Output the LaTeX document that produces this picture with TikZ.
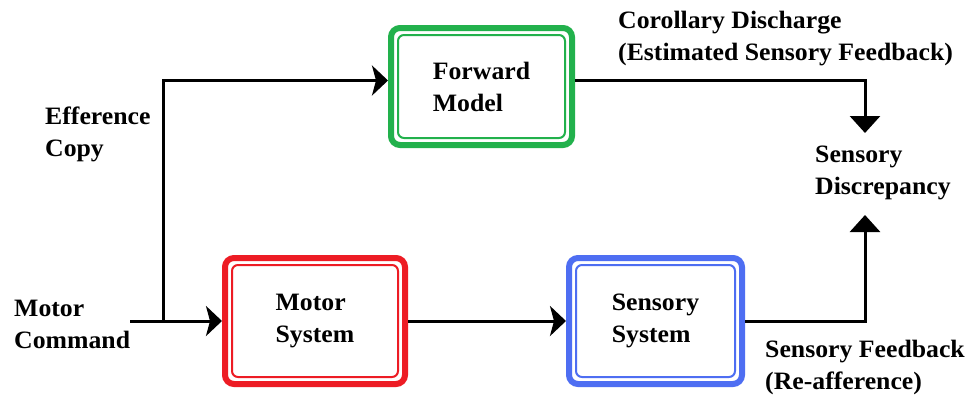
\documentclass[tikz,border=0pt]{standalone}
\usepackage{fontspec}
\setmainfont[FakeStretch=1.03]{Liberation Serif}
\usetikzlibrary{arrows.meta}
\definecolor{fmgreen}{RGB}{34,177,76}
\definecolor{msred}{RGB}{237,28,36}
\definecolor{ssblue}{RGB}{78,110,242}
\begin{document}
\begin{tikzpicture}[x=1pt,y=-1pt,
  every node/.style={font=\bfseries\fontsize{25}{32}\selectfont},
  blockbox/.style={draw=#1, line width=6pt, rounded corners=9pt, align=left, inner sep=0pt},
  innerline/.style={draw=#1, line width=2pt, rounded corners=6pt},
  lbl/.style={anchor=west, align=left, inner sep=0pt},
  conn/.style={line width=3pt},
  harrow/.style={conn, -{Stealth[width=30pt,length=16pt,inset=4pt]}},
  varrow/.style={conn, -{Triangle[width=30pt,length=17pt]}}]
\useasboundingbox (0,0) rectangle (974,394);
\fill[white] (0,0) rectangle (974,394);

\node[blockbox=fmgreen, minimum width=181pt, minimum height=117pt] (fm) at (481.5,86.5) {Forward\\Model};
\node[blockbox=msred, minimum width=180pt, minimum height=126pt] (ms) at (315,321) {Motor\\System};
\node[blockbox=ssblue, minimum width=173pt, minimum height=126pt] (ss) at (655.5,321) {Sensory\\System};

\draw[innerline=fmgreen] ([shift={(10,10)}]fm.north west) rectangle ([shift={(-10,-10)}]fm.south east);
\draw[innerline=msred] ([shift={(10,10)}]ms.north west) rectangle ([shift={(-10,-10)}]ms.south east);
\draw[innerline=ssblue] ([shift={(10,10)}]ss.north west) rectangle ([shift={(-10,-10)}]ss.south east);

\node[lbl] (cd) at (618,38.5) {Corollary Discharge\\(Estimated Sensory Feedback)};
\node[lbl] (ec) at (45,134) {Efference\\Copy};
\node[lbl] (mc) at (14,324) {Motor\\Command};
\node[lbl] (sf) at (765,367) {Sensory Feedback\\(Re-afference)};
\node[lbl] (sd) at (815,173) {Sensory\\Discrepancy};

\coordinate (mcstart) at (130,321);
\coordinate (split) at (163,321);
\coordinate (dtop) at (865,133);
\coordinate (dbot) at (865,215);

\draw[harrow] (mcstart) -- (ms.west);
\draw[harrow, line cap=rect] (split) |- ([yshift=6pt]fm.west);
\draw[varrow] ([yshift=6pt]fm.east) -| (dtop);
\draw[harrow] (ms.east) -- (ss.west);
\draw[varrow] (ss.east) -| (dbot);
\end{tikzpicture}
\end{document}
